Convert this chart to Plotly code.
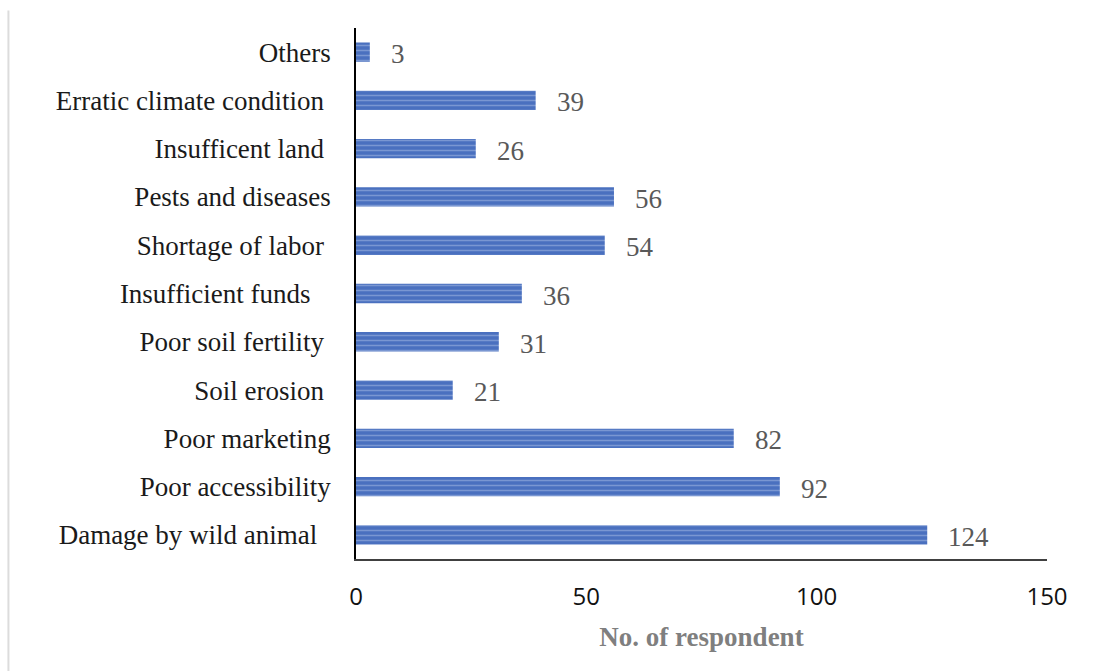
import plotly.graph_objects as go

categories = ["Damage by wild animal", "Poor accessibility", "Poor marketing", "Soil erosion",
              "Poor soil fertility", "Insufficient funds", "Shortage of labor", "Pests and diseases",
              "Insufficent land", "Erratic climate condition", "Others"]
tick_labels = ["Damage by wild animal\u00a0\u00a0", "Poor accessibility", "Poor marketing",
               "Soil erosion\u00a0", "Poor soil fertility\u00a0", "Insufficient funds\u00a0\u00a0\u00a0",
               "Shortage of labor\u00a0", "Pests and diseases", "Insufficent land\u00a0",
               "Erratic climate condition\u00a0", "Others"]
values = [124, 92, 82, 21, 31, 36, 54, 56, 26, 39, 3]
x_ticks = [0, 50, 100, 150]

fig = go.Figure()
fig.add_trace(go.Bar(
    y=categories, x=values, orientation="h", width=0.4,
    marker=dict(color="#4a70bf", line=dict(width=0),
                pattern=dict(shape="-", fgcolor="#a9bde6", bgcolor="#4a70bf", size=5, solidity=0.3)),
    hoverinfo="x+y",
))
for c, v in zip(categories, values):
    fig.add_annotation(x=v, y=c, text=str(v), showarrow=False, xanchor="left", xshift=19, yshift=-2,
                       font=dict(family="Liberation Serif", size=27, color="#595959"))

fig.add_shape(type="line", xref="paper", yref="paper", x0=-0.503, x1=-0.503, y0=-0.211, y1=1.033,
              line=dict(color="#dcdcdc", width=2))

fig.update_layout(
    width=1107, height=671,
    margin=dict(l=356, r=60, t=28, b=112),
    plot_bgcolor="white", paper_bgcolor="white",
    showlegend=False,
    xaxis=dict(range=[0, 150], tickvals=x_ticks, showgrid=False, zeroline=False,
               showline=True, linecolor="#404040", linewidth=1.5,
               tickfont=dict(family="Open Sans", size=24, color="#111111"),
               ticks="", ticklabelstandoff=15,
               title=dict(text="<b>No. of respondent</b>", standoff=17,
                          font=dict(family="Liberation Serif", size=27, color="#7f7f7f"))),
    yaxis=dict(categoryorder="array", categoryarray=categories,
               tickvals=categories, ticktext=tick_labels, showgrid=False, zeroline=False,
               showline=True, linecolor="#000000", linewidth=1.5, ticks="", ticklabelstandoff=18,
               range=[-0.5, 10.5],
               tickfont=dict(family="Liberation Serif", size=27, color="#1a1a1a")),
)
fig.write_html("out.html")
